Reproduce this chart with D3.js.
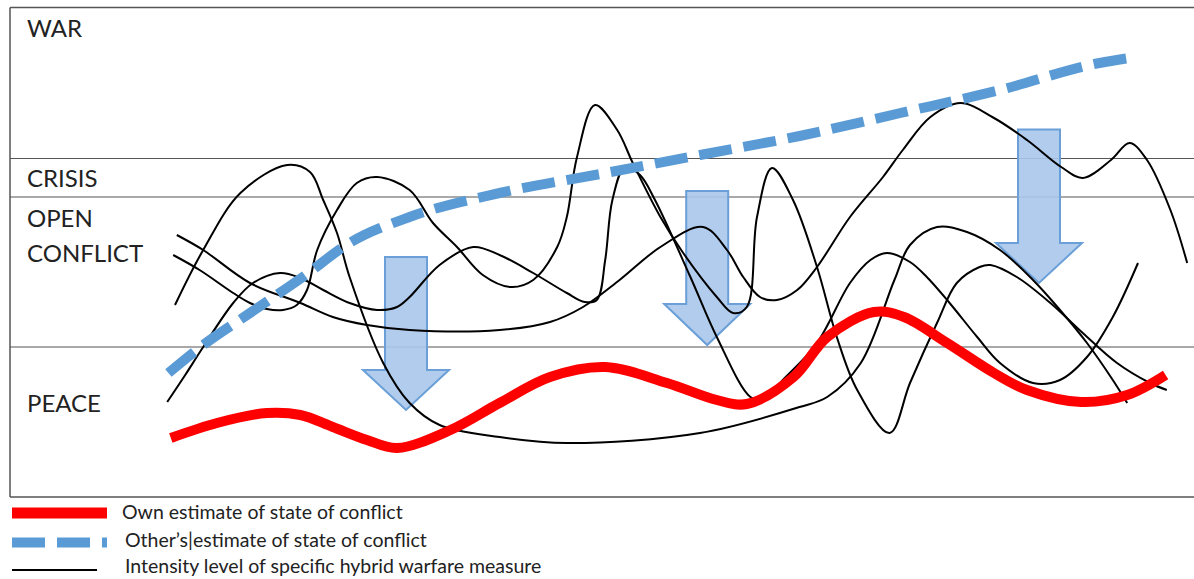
<!DOCTYPE html>
<html><head><meta charset="utf-8">
<script src="https://cdn.jsdelivr.net/npm/d3@7"></script>
<style>
body{margin:0;background:#fff;}
svg{display:block;font-family:Lato,"Open Sans",sans-serif;}
</style>
</head><body>
<svg id="chart" width="1194" height="579"></svg>
<script>
// ---------- DATA (time 0-100, intensity 0-100) ----------
const bandNames  = ["PEACE", "OPEN\nCONFLICT", "CRISIS", "WAR"];
const bandEdges  = [0, 30, 60, 67.7, 97.9];

const ownEstimate = [[13.4,11.8],[17.25,14.8],[21.4,16.8],[24.2,16.4],[26.9,14],[29.75,11.4],[32.25,9.8],[36.7,13.4],[40.8,18.8],[45,24],[49.6,26],[54.75,22.8],[58.9,19.4],[61.4,18.6],[65.3,24],[68.1,32],[72,37],[74.5,36],[78.1,30.8],[82,24.8],[84.75,21.4],[89.25,19],[93.1,20.4],[96.3,24.4]];

const otherEstimate = [[13.2,24.8],[16.1,30.4],[20,36.8],[24.4,44],[28.3,50.8],[33.3,56],[40.8,60.8],[49.2,64.6],[57.5,68.4],[65.8,72.2],[74.2,76.8],[82.5,81.4],[90.8,86.8],[93.3,87.8]];

const measureA = [[13.6,48.4],[15.8,45.4],[18.6,40.8],[20,38.8],[21.4,37.6],[22.75,37.4],[23.9,38.4],[24.75,41.4],[25.6,49.4],[27.25,57.4],[28.9,62.8],[30.6,64],[33.3,61.4],[35.25,54.8],[37.25,50],[39.4,44.4],[41.7,42],[43.6,43.4],[45.6,50],[46.4,56],[47.25,68],[48.75,78.4],[50.6,73.4],[51.9,66.8],[54.2,56],[56.1,48.8],[58.9,40],[60.25,36.8],[61.4,38],[62.25,56],[63.5,65.8],[65.25,59.4],[67.25,46],[68.9,32],[70.6,21.4],[73.3,12.8],[75,22.8],[77.25,34.8],[78.9,42.8],[80.8,46],[81.7,46.4],[83.9,44],[86.7,38.8],[89.4,32.8],[92.25,26.8],[95,22.8],[96.4,21.4]];

const measureB = [[13.1,19],[14.6,24.4],[16.1,30],[18.6,38.8],[20.25,42.8],[22.5,44.8],[24.2,43.8],[26.1,41.4],[28.3,38.8],[30.6,37.4],[32.25,38],[33.3,40],[35.8,46.4],[38.6,50],[40.8,48.4],[43.6,44.8],[46.4,40.8],[47.9,39],[48.9,39.4],[49.6,47.4],[50.2,59.4],[51.25,66],[52.5,64.4],[53.75,59.4],[56.7,44],[58.9,32],[61.7,20],[62.75,19.4],[64.4,23.4],[67.25,30.8],[70,42.8],[71.7,47.4],[73.1,48.8],[75,47],[76.4,44],[78.3,38.8],[80.6,32],[82.5,26.8],[85.25,22.8],[87.5,23.4],[89.75,28],[91.9,36],[94,46.8]];

const measureC = [[13.9,52.4],[16.1,49.4],[20,42.8],[24.2,38.8],[26.9,36],[29.75,34.4],[33.3,33.4],[40.8,33.4],[45,35],[47.75,38],[50.8,43.4],[54.2,50],[57.75,54],[59.75,49.4],[61.1,44],[62.5,40],[63.9,39.4],[65.6,41.4],[67.25,46],[70,56],[72.75,64],[74.4,69.4],[76.7,76],[79.2,78.8],[82,75.8],[84.75,71.4],[87.6,66],[89.4,63.8],[91.75,67.4],[93.3,70.8],[94.75,67.4],[96.7,57.4],[98.1,46.8]];

const measureD = [[13.75,38.4],[16.1,49.4],[19.2,60.8],[23.1,66.4],[25,65],[26.1,59.4],[27.25,52.8],[28.3,44],[31.1,26.8],[33.3,18.8],[35.8,14.4],[40.8,12],[46.4,10.8],[57.5,12.8],[65.8,18],[68.1,20],[70.9,26.8],[73.7,43.4],[75,50.4],[77.25,54],[79.75,53],[82.5,49.4],[85.25,43.4],[87.5,37.4],[89.75,30.8],[91.9,23.4],[93.1,18.8]];

// arrows: [time, from level, head level, tip level]
const deescalationArrows = [[33,48,25.4,17.4],[58.1,61.2,38.6,30.4],[85.75,73.5,50.8,42.8]];

const legendLabels = ["Own estimate of state of conflict", "Other\u2019s|estimate of state of conflict", "Intensity level of specific hybrid warfare measure"];

// ---------- LAYOUT ----------
const svg = d3.select("#chart");
const x = d3.scaleLinear().domain([0,100]).range([10,1210]);
const y = d3.scaleLinear().domain([0,100]).range([497,-3]);
const lineCol = "#555";
const blue = "#5b9bd5", red = "#ff0000";

// frame
svg.append("line").attr("x1",x(0)).attr("x2",1194).attr("y1",y(bandEdges[4])).attr("y2",y(bandEdges[4])).attr("stroke",lineCol).attr("stroke-width",1.5);
svg.append("line").attr("x1",x(0)).attr("x2",1194).attr("y1",y(0)).attr("y2",y(0)).attr("stroke",lineCol).attr("stroke-width",1.5);
svg.append("line").attr("x1",x(0)).attr("x2",x(0)).attr("y1",y(bandEdges[4])).attr("y2",y(0)).attr("stroke",lineCol).attr("stroke-width",1.5);
svg.selectAll("line.band").data(bandEdges.slice(1,4)).enter().append("line")
  .attr("class","band").attr("x1",x(0)).attr("x2",1194)
  .attr("y1",d=>y(d)).attr("y2",d=>y(d)).attr("stroke",lineCol).attr("stroke-width",1.2);

// band labels
const labelOffsets = [64.5, 29.5, 28.5, 29.5];
bandNames.forEach((name,i)=>{
  const top = y(bandEdges[i+1]);
  const t = svg.append("text").attr("x",27).attr("y",top+labelOffsets[i])
    .attr("font-size",24).attr("fill","#222");
  name.split("\n").forEach((ln,j)=>{
    t.append("tspan").attr("x",27).attr("dy",j===0?0:35).text(ln);
  });
});

// arrows
const shaftHalf = 21, headHalf = 43;
svg.selectAll("path.arrow").data(deescalationArrows).enter().append("path")
  .attr("class","arrow")
  .attr("d",d=>{
    const cx = x(d[0]), t0 = y(d[1]), h = y(d[2]), tip = y(d[3]);
    return `M${cx-shaftHalf},${t0}L${cx+shaftHalf},${t0}L${cx+shaftHalf},${h}L${cx+headHalf},${h}L${cx},${tip}L${cx-headHalf},${h}L${cx-shaftHalf},${h}Z`;
  })
  .attr("fill","#a8c6ea").attr("fill-opacity",0.9).attr("stroke","#6a9fd8").attr("stroke-width",2);

const gen = d3.line().x(d=>x(d[0])).y(d=>y(d[1])).curve(d3.curveCatmullRom.alpha(0.5));
const genSmooth = d3.line().x(d=>x(d[0])).y(d=>y(d[1])).curve(d3.curveMonotoneX);

// black measures
[measureA, measureB, measureC, measureD].forEach(m=>{
  svg.append("path").attr("d",gen(m)).attr("fill","none").attr("stroke","#000").attr("stroke-width",2);
});

// other's estimate
svg.append("path").attr("d",genSmooth(otherEstimate)).attr("fill","none").attr("stroke",blue)
  .attr("stroke-width",10).attr("stroke-dasharray","33,12");
// own estimate
svg.append("path").attr("d",gen(ownEstimate)).attr("fill","none").attr("stroke",red)
  .attr("stroke-width",10).attr("stroke-linecap","butt");

// legend
const lg = svg.append("g");
lg.append("line").attr("x1",12).attr("x2",107).attr("y1",513).attr("y2",513).attr("stroke",red).attr("stroke-width",11);
lg.append("line").attr("x1",12).attr("x2",107).attr("y1",542.5).attr("y2",542.5).attr("stroke",blue).attr("stroke-width",10).attr("stroke-dasharray","33,12");
lg.append("line").attr("x1",12).attr("x2",97).attr("y1",570).attr("y2",570).attr("stroke","#000").attr("stroke-width",2);
const lx = [122,125,125], ly = [519,547,573];
legendLabels.forEach((s,i)=>{
  lg.append("text").attr("x",lx[i]).attr("y",ly[i]).attr("font-size",19.5).attr("fill","#222").text(s);
});
</script>
</body></html>
